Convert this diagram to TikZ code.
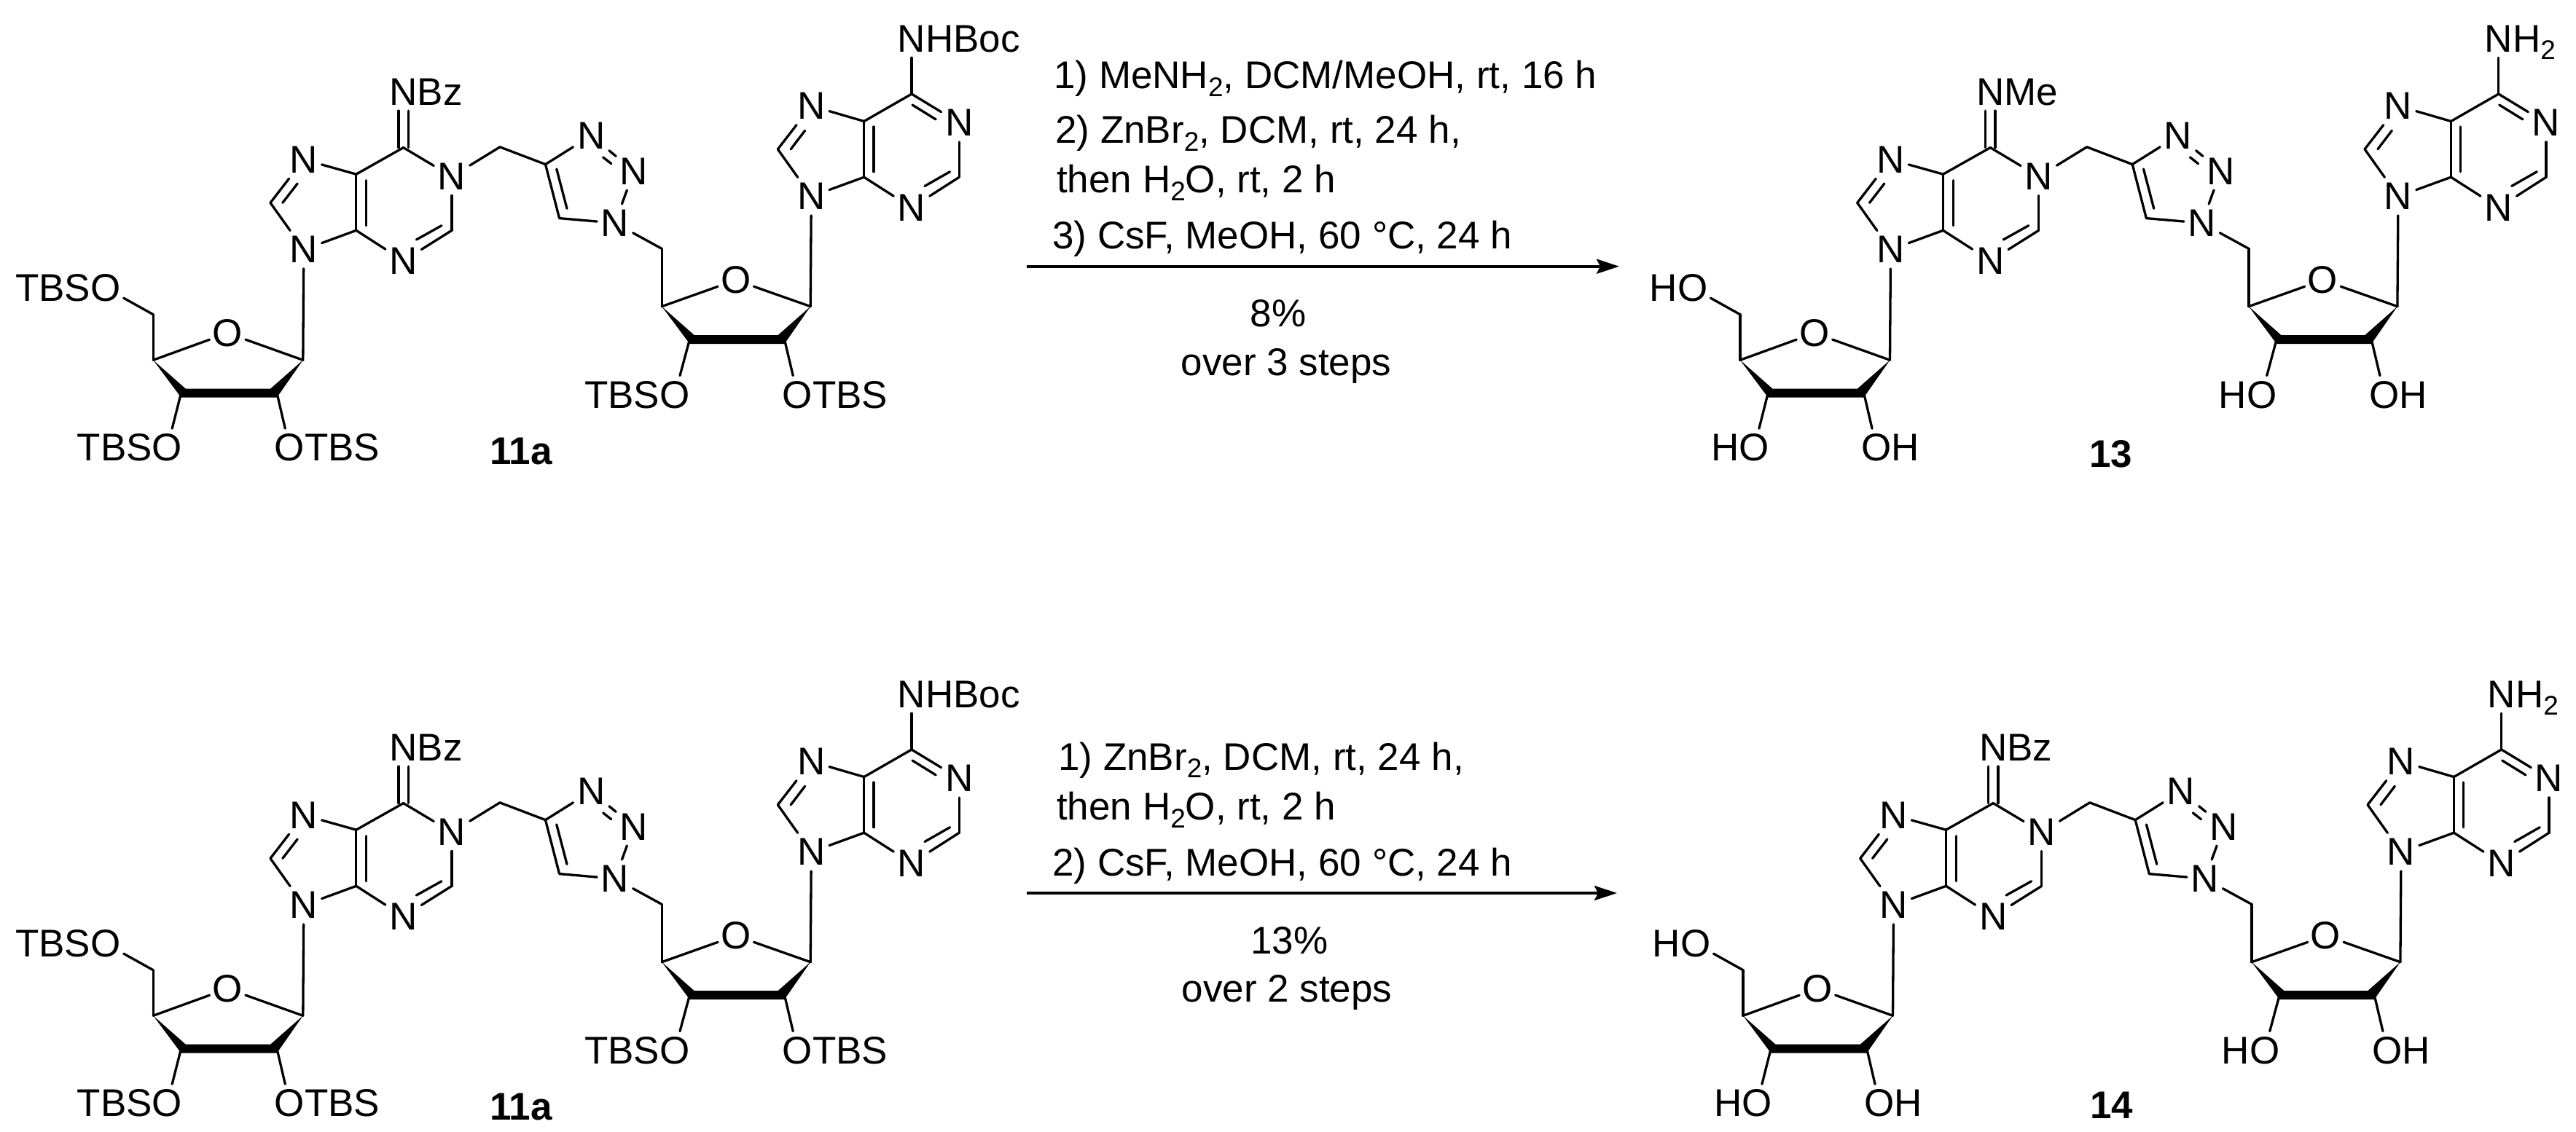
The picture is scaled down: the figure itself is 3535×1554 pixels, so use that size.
\documentclass[tikz,border=0pt]{standalone}
\usepackage{fontspec}
\setmainfont{Liberation Sans}
\usetikzlibrary{arrows.meta}
\newcommand\chemsub[1]{\raisebox{-10.5pt}{\fontsize{37}{40}\selectfont #1}}
\tikzset{
  bond/.style={line width=3.3pt,line cap=round,line join=round,black},
  atom/.style={inner sep=0pt,minimum width=49pt,minimum height=52pt,font=\fontsize{53}{60}\selectfont},
  txt/.style={inner sep=0pt,font=\fontsize{53}{60}\selectfont},
  lab/.style={inner sep=0pt,font=\fontsize{53}{60}\selectfont\bfseries},
  rxn/.style={line width=4pt,-{Stealth[length=31pt,width=20pt,inset=5pt]}}
}
\newcommand\mol[6]{%
\begin{scope}[shift={(#2,#3)}]
  % first sugar
  \coordinate (#1a4) at (210.2,494.3);
  \coordinate (#1a3) at (248.5,539.6);
  \coordinate (#1a2) at (380,539.6);
  \coordinate (#1a1) at (415.8,494.3);
  \coordinate (#1a5) at (210.2,431.7);
  \node[atom] (#1ao) at (312.2,457.3) {O};
  \node[atom] (#1ao5) at (145,395.4) {O};
  \node[atom] (#1ao3) at (229.6,614.4) {O};
  \node[atom] (#1ao2) at (397.4,614.4) {O};
  \node[txt,anchor=base east] (#1ar5) at ([xshift=-20.6pt]#1ao5.base) {#6};
  \node[txt,anchor=base east] (#1ar3) at ([xshift=-20.6pt]#1ao3.base) {#6};
  \node[txt,anchor=base west] (#1ar2) at ([xshift=20.6pt]#1ao2.base) {#6};
  \fill (#1a4) -- ([xshift=6.2pt,yshift=6pt]#1a3) -- ([xshift=-8.8pt,yshift=6pt]#1a2) -- (#1a1)
        -- ([yshift=-6pt]#1a2) -- ([yshift=-6pt]#1a3) -- cycle;
  \draw[bond] (#1a4) -- (#1ao);
  \draw[bond] (#1a1) -- (#1ao);
  \draw[bond] (#1a4) -- (#1a5);
  \draw[bond] (#1a5) -- (#1ao5);
  \draw[bond] (#1a3) -- (#1ao3);
  \draw[bond] (#1a2) -- (#1ao2);
  % first purine
  \coordinate (#1c6) at (553.6,202.6);
  \coordinate (#1c6l) at (547,202.6);
  \coordinate (#1c6r) at (560.2,202.6);
  \coordinate (#1c5) at (488.8,239.2);
  \coordinate (#1c4) at (488.8,316.3);
  \coordinate (#1c8) at (371,278.4);
  \coordinate (#1c2) at (620,316.3);
  \node[atom] (#1n7) at (416.8,219) {N};
  \node[atom] (#1n9) at (416.8,342.7) {N};
  \node[atom] (#1n3) at (553.6,358) {N};
  \node[atom] (#1n1) at (620,242.3) {N};
  \node[atom] (#1n6) at (553.6,125.9) {N};
  \node[txt,anchor=base west] (#1r6) at ([xshift=19.1pt]#1n6.base) {#4};
  \draw[bond] (#1c6l |- #1n6.south) -- (#1c6l);
  \draw[bond] (#1c6r |- #1n6.south) -- (#1c6r);
  \draw[bond] (#1c6) -- (#1c5);
  \draw[bond] (#1c6) -- (#1n1);
  \draw[bond] (#1c5) -- (#1n7);
  \draw[bond] (#1n7) -- (#1c8);
  \draw[bond] (387.8,278.4) -- (408.2,252);
  \draw[bond] (#1c8) -- (#1n9);
  \draw[bond] (#1n9) -- (#1c4);
  \draw[bond] (#1c4) -- (#1c5);
  \draw[bond] (502.6,247.6) -- (502.6,309.7);
  \draw[bond] (#1c4) -- (#1n3);
  \draw[bond] (#1n3) -- (#1c2);
  \draw[bond] (606,309.7) -- (571.4,329);
  \draw[bond] (#1c2) -- (#1n1);
  \draw[bond] (#1n9) -- (#1a1);
  % triazole
  \coordinate (#1m) at (686,201.8);
  \coordinate (#1t4) at (748.5,225.6);
  \coordinate (#1t5) at (767.6,299.6);
  \node[atom] (#1tn3) at (811.2,186.3) {N};
  \node[atom] (#1tn2) at (869.9,234.8) {N};
  \node[atom] (#1tn1) at (843.9,306.2) {N};
  \draw[bond] (#1n1) -- (#1m);
  \draw[bond] (#1m) -- (#1t4);
  \draw[bond] (#1t4) -- (#1t5);
  \draw[bond] (763.8,232) -- (778,286.3);
  \draw[bond] (#1t5) -- (#1tn1);
  \draw[bond] (#1t4) -- (#1tn3);
  \draw[bond] (#1tn3) -- (#1tn2);
  \draw[bond] (827.6,215.9) -- (838.8,224.7);
  \draw[bond] (#1tn2) -- (#1tn1);
  % second sugar
  \coordinate (#1b5) at (908.2,341.4);
  \coordinate (#1b4) at (908.2,420.7);
  \coordinate (#1b3) at (946.4,466);
  \coordinate (#1b2) at (1076.5,466);
  \coordinate (#1b1) at (1112.2,420.7);
  \node[atom] (#1bo) at (1009.7,384.6) {O};
  \node[atom] (#1bo3) at (926,541.8) {O};
  \node[atom] (#1bo2) at (1094.4,541.8) {O};
  \node[txt,anchor=base east] (#1br3) at ([xshift=-20.6pt]#1bo3.base) {#6};
  \node[txt,anchor=base west] (#1br2) at ([xshift=20.6pt]#1bo2.base) {#6};
  \fill (#1b4) -- ([xshift=6.2pt,yshift=6pt]#1b3) -- ([xshift=-8.8pt,yshift=6pt]#1b2) -- (#1b1)
        -- ([yshift=-6pt]#1b2) -- ([yshift=-6pt]#1b3) -- cycle;
  \draw[bond] (#1tn1) -- (#1b5);
  \draw[bond] (#1b5) -- (#1b4);
  \draw[bond] (#1b4) -- (#1bo);
  \draw[bond] (#1b1) -- (#1bo);
  \draw[bond] (#1b3) -- (#1bo3);
  \draw[bond] (#1b2) -- (#1bo2);
  % second purine
  \coordinate (#1d6) at (1251,129);
  \coordinate (#1d5) at (1185.7,166.5);
  \coordinate (#1d4) at (1185.7,243.2);
  \coordinate (#1d8) at (1067.3,204.8);
  \coordinate (#1d2) at (1316.3,243.2);
  \node[atom] (#1q9) at (1113.3,269.6) {N};
  \node[atom] (#1q7) at (1113.3,145.4) {N};
  \node[atom] (#1q1) at (1316.3,168.7) {N};
  \node[atom] (#1q3) at (1251,285) {N};
  \node[atom] (#1q6) at (1251,53) {N};
  \node[txt,anchor=base west] (#1s6) at ([xshift=19.1pt]#1q6.base) {#5};
  \draw[bond] (#1q6) -- (#1d6);
  \draw[bond] (#1d6) -- (#1d5);
  \draw[bond] (#1d6) -- (#1q1);
  \draw[bond] (1252,144) -- (1284.2,163.9);
  \draw[bond] (#1q1) -- (#1d2);
  \draw[bond] (#1d2) -- (#1q3);
  \draw[bond] (1303.6,235.7) -- (1268.9,255.5);
  \draw[bond] (#1q3) -- (#1d4);
  \draw[bond] (#1d4) -- (#1d5);
  \draw[bond] (1199,174) -- (1199,235.7);
  \draw[bond] (#1d5) -- (#1q7);
  \draw[bond] (#1q7) -- (#1d8);
  \draw[bond] (1085.2,204.8) -- (1104.6,179.3);
  \draw[bond] (#1d8) -- (#1q9);
  \draw[bond] (#1q9) -- (#1d4);
  \draw[bond] (#1q9) -- (#1b1);
\end{scope}}
\begin{document}
\begin{tikzpicture}[x=1pt,y=-1pt]
  \useasboundingbox (0,0) rectangle (3535,1554);
  \fill[white] (0,0) rectangle (3535,1554);
  \mol{p}{0}{0}{Bz}{HBoc}{TBS}
  \mol{q}{2177.7}{0}{Me}{H\chemsub{2}}{H}
  \mol{r}{0}{900}{Bz}{HBoc}{TBS}
  \mol{s}{2181.7}{900}{Bz}{H\chemsub{2}}{H}
  \node[lab,anchor=base west] (l1) at (672,637.4) {11a};
  \node[lab,anchor=base west] (l2) at (2867,641) {13};
  \node[lab,anchor=base west] (l3) at (672,1537.4) {11a};
  \node[lab,anchor=base west] (l4) at (2868,1535) {14};
  % top reaction
  \node[txt,anchor=base west] (t1) at (1446,121.7) {1) MeNH\chemsub{2}, DCM/MeOH, rt, 16 h};
  \node[txt,anchor=base west] (t2) at (1448,196.7) {2) ZnBr\chemsub{2}, DCM, rt, 24 h,};
  \node[txt,anchor=base west] (t3) at (1450,265) {then H\chemsub{2}O, rt, 2 h};
  \node[txt,anchor=base west] (t4) at (1444,341.7) {3) CsF, MeOH, 60 °C, 24 h};
  \coordinate (ta) at (1408.6,365.7);
  \coordinate (tb) at (2222,365.7);
  \draw[rxn] (ta) -- (tb);
  \node[txt,anchor=base] (t5) at (1754,448) {8\%};
  \node[txt,anchor=base] (t6) at (1765,515) {over 3 steps};
  % bottom reaction
  \node[txt,anchor=base west] (b1) at (1452,1057.3) {1) ZnBr\chemsub{2}, DCM, rt, 24 h,};
  \node[txt,anchor=base west] (b2) at (1450,1125.7) {then H\chemsub{2}O, rt, 2 h};
  \node[txt,anchor=base west] (b3) at (1444,1202.3) {2) CsF, MeOH, 60 °C, 24 h};
  \coordinate (ua) at (1408.6,1226);
  \coordinate (ub) at (2219,1226);
  \draw[rxn] (ua) -- (ub);
  \node[txt,anchor=base] (b4) at (1769.5,1309) {13\%};
  \node[txt,anchor=base] (b5) at (1766,1375) {over 2 steps};
\end{tikzpicture}
\end{document}
